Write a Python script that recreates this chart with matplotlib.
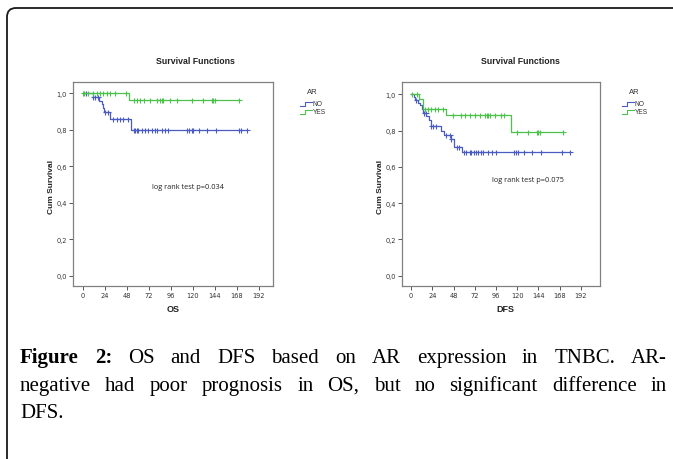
import matplotlib
matplotlib.use('Agg')
import matplotlib.pyplot as plt
from matplotlib.patches import FancyBboxPatch
from matplotlib.lines import Line2D
from matplotlib.transforms import IdentityTransform
import numpy as np

# ---------------- data ----------------
x_ticks = [0, 24, 48, 72, 96, 120, 144, 168, 192]
y_ticks = [0.0, 0.2, 0.4, 0.6, 0.8, 1.0]
y_tick_labels = ["0,0", "0,2", "0,4", "0,6", "0,8", "1,0"]
groups = ["NO", "YES"]

# OS
os_no_times = [0, 11.6, 18.2, 20.7, 21.8, 23.6, 29.8, 52.7]
os_no_surv = [1.0, 0.978, 0.96, 0.94, 0.92, 0.90, 0.857, 0.80]
os_no_end = 179
os_no_cens = [3.6, 11.6, 13.5, 17, 24.4, 28, 33.5, 37, 40.7, 44.4, 49.8,
              56, 57.5, 59, 60.7, 64.4, 68, 71.6, 75.3, 79, 81.5, 86.2, 89.8,
              93.5, 114, 116.4, 119, 120.7, 127, 135.3, 145.5, 170, 172.4, 179]

os_yes_times = [0, 50.8]
os_yes_surv = [1.0, 0.962]
os_yes_end = 170
os_yes_cens = [0, 1.5, 6, 11.6, 15.3, 18.9, 22.5, 26.2, 29.8, 35.3, 47.3,
               56, 59, 62.5, 67, 73, 81, 84.7, 86.5, 88, 95.6, 102.9, 119,
               131.6, 140.7, 142.5, 144.4, 170]

# DFS
dfs_no_times = [0, 3, 5, 8, 10, 12, 14, 17, 20, 23, 34, 37, 45, 49, 58]
dfs_no_surv = [1.0, 0.985, 0.97, 0.955, 0.94, 0.92, 0.90, 0.88, 0.86, 0.825,
               0.80, 0.775, 0.755, 0.71, 0.68]
dfs_no_end = 179.6
dfs_no_cens = [6, 14.7, 16.6, 23, 24.9, 28.7, 39.2, 43.8, 45.6, 52, 54.3,
               59.6, 62.6, 66.4, 68.3, 70.9, 73.2, 75.8, 78.5, 81.5, 87.1, 92,
               95.8, 116.2, 118.4, 121, 127.5, 136.2, 146.4, 170.1, 179.6]

dfs_yes_times = [0, 8.7, 13.6, 40, 112.5]
dfs_yes_surv = [1.0, 0.974, 0.922, 0.887, 0.79]
dfs_yes_end = 171.5
dfs_yes_cens = [1.1, 7.2, 16.3, 19.2, 23.1, 26.8, 30.5, 36.2,
                47.5, 57, 60.7, 66.4, 72, 77.7, 83.4, 85.3, 87.1, 89, 94.7,
                102.2, 105.2, 119.2, 132.4, 141.8, 143.7, 145.6, 171.5]

os_p_text = "log rank test p=0.034"
dfs_p_text = "log rank test p=0.075"

caption_lines = [
    [("Figure", "bold"), ("2:", "bold"), ("OS", "normal"), ("and", "normal"),
     ("DFS", "normal"), ("based", "normal"), ("on", "normal"), ("AR", "normal"),
     ("expression", "normal"), ("in", "normal"), ("TNBC.", "normal"), ("AR-", "normal")],
    [(w, "normal") for w in "negative had poor prognosis in OS, but no significant difference in".split()],
    [("DFS.", "normal")],
]

# ---------------- figure ----------------
W, H = 673, 460
fig = plt.figure(figsize=(6.73, 4.60), dpi=100)
fig.patch.set_facecolor('white')

BLUE = '#4a5cc0'
GREEN = '#4cc24c'
GRAY = '#808080'


def fx(x):
    return x / W


def fy(y):
    return 1 - y / H


def make_ax(l, r, t, b, xlim, ylim):
    ax = fig.add_axes([fx(l), fy(b), (r - l) / W, (b - t) / H])
    ax.set_xlim(*xlim)
    ax.set_ylim(*ylim)
    for s in ax.spines.values():
        s.set_color(GRAY)
        s.set_linewidth(0.9)
    ax.set_xticks(x_ticks)
    ax.set_xticklabels([str(v) for v in x_ticks])
    ax.set_yticks(y_ticks)
    ax.set_yticklabels(y_tick_labels)
    ax.tick_params(direction='out', length=3, width=0.7, color='#555555',
                   labelsize=4.8, labelcolor='#333333', pad=1.5)
    return ax


def draw_curve(ax, times, surv, end, cens, color):
    xs = list(times) + [end]
    ys = list(surv) + [surv[-1]]
    ax.plot(xs, ys, drawstyle='steps-post', color=color, lw=0.9)
    idx = np.searchsorted(np.array(times), np.array(cens), side='right') - 1
    cy = np.array(surv)[idx]
    ax.plot(cens, cy, linestyle='none', marker='+', color=color,
            markersize=3.6, markeredgewidth=0.8)


ax1 = make_ax(73, 273, 83, 287, (-10.6, 207.6), (-0.056, 1.062))
draw_curve(ax1, os_no_times, os_no_surv, os_no_end, os_no_cens, BLUE)
draw_curve(ax1, os_yes_times, os_yes_surv, os_yes_end, os_yes_cens, GREEN)

ax2 = make_ax(402, 600, 83, 287, (-10.2, 213.5), (-0.057, 1.0685))
draw_curve(ax2, dfs_no_times, dfs_no_surv, dfs_no_end, dfs_no_cens, BLUE)
draw_curve(ax2, dfs_yes_times, dfs_yes_surv, dfs_yes_end, dfs_yes_cens, GREEN)

# titles & labels
for cx, xl, ylx in [(195, "OS", 173), (520, "DFS", 505)]:
    fig.text(fx(cx), fy(62), "Survival Functions", ha='center', va='center',
             fontsize=6.3, fontweight='bold', family='Liberation Sans', color='#222222')
    fig.text(fx(ylx), fy(310), xl, ha='center', va='center',
             fontsize=6.5, fontweight='bold', family='Liberation Sans', color='#222222')
for x in [51.5, 381]:
    fig.text(fx(x), fy(187), "Cum Survival", ha='center', va='center', rotation=90,
             fontsize=6.0, fontweight='bold', family='Liberation Sans', color='#222222')

fig.text(fx(188), fy(187.5), os_p_text, ha='center', va='center',
         fontsize=5.3, family='Open Sans', color='#222222')
fig.text(fx(528), fy(181), dfs_p_text, ha='center', va='center',
         fontsize=5.3, family='Open Sans', color='#222222')

# legends
for (ax_x, ar_y) in [(300, 93), (622, 93)]:
    fig.text(fx(ax_x + 12), fy(ar_y), "AR", ha='center', va='center',
             fontsize=5.5, family='Liberation Sans', color='#333333')
    for i, (g, col) in enumerate(zip(groups, [BLUE, GREEN])):
        yc = 104.5 + i * 8
        xs = [ax_x, ax_x + 5, ax_x + 5, ax_x + 12]
        ys = [yc + 2, yc + 2, yc - 2, yc - 2]
        fig.add_artist(Line2D([fx(v) for v in xs], [fy(v) for v in ys],
                              transform=fig.transFigure, color=col, lw=0.8))
        fig.text(fx(ax_x + 12.5), fy(yc), g, ha='left', va='center',
                 fontsize=4.8, family='Liberation Sans', color='#333333')

# border
border = FancyBboxPatch((7, -60), 720, H - 9 + 60,
                        boxstyle="round,pad=0,rounding_size=9",
                        transform=IdentityTransform(), fill=False,
                        edgecolor='#1a1a1a', linewidth=1.3)
fig.add_artist(border)

# caption (justified)
renderer = fig.canvas.get_renderer()
CAP_SIZE = 15
x0, x1 = 20, 667
baselines = [363, 391, 418]
for li, (words, base) in enumerate(zip(caption_lines, baselines)):
    texts = []
    for w, wt in words:
        t = fig.text(0, 0, w, fontsize=CAP_SIZE, fontweight=wt,
                     family='Liberation Serif', color='black',
                     transform=IdentityTransform(), va='baseline', ha='left')
        texts.append(t)
    widths = [t.get_window_extent(renderer).width for t in texts]
    if li < len(caption_lines) - 1 and len(texts) > 1:
        gap = (x1 - x0 - sum(widths)) / (len(texts) - 1)
    else:
        gap = CAP_SIZE * 100 / 72 * 0.25
    x = x0
    for t, w in zip(texts, widths):
        t.set_position((x, H - base))
        x += w + gap

fig.savefig('out.png', dpi=100)
